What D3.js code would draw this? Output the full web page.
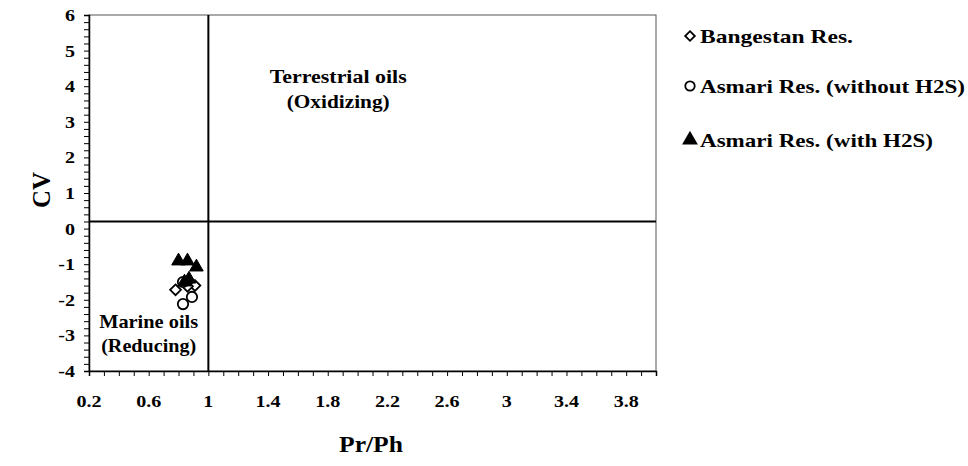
<!DOCTYPE html>
<html><head><meta charset="utf-8">
<script src="https://cdn.jsdelivr.net/npm/d3@7"></script>
<style>body{margin:0;background:#fff}svg{display:block}text{font-family:"Liberation Serif","Times New Roman",serif;font-weight:bold;fill:#000}</style>
</head><body><svg id="c" width="968" height="466"></svg>
<script>
// Data
const bangestan = [[0.78,-1.72],[0.91,-1.60],[0.86,-1.62]];
const asmariNoH2S = [[0.83,-1.50],[0.89,-1.92],[0.83,-2.12]];
const asmariH2S = [[0.80,-0.91],[0.86,-0.91],[0.92,-1.08],[0.87,-1.42],[0.84,-1.50]];
const xTickLabels = [0.2,0.6,1,1.4,1.8,2.2,2.6,3,3.4,3.8];
const yTickLabels = [-4,-3,-2,-1,0,1,2,3,4,5,6];
const xThreshold = 1, yThreshold = 0.2;
const seriesNames = ["Bangestan Res.","Asmari Res. (without H2S)","Asmari Res. (with H2S)"];

const svg = d3.select("#c");
const L=89, R=656, T=15, B=371;
const x = d3.scaleLinear().domain([0.2,4.0]).range([L,R]);
const y = d3.scaleLinear().domain([-4,6]).range([B,T]);

function label(parent, px, py, txt, size, len, anchor){
  const t = parent.append("text").attr("x",px).attr("y",py)
    .attr("text-anchor",anchor||"middle").style("font-size",size+"px").text(txt);
  if(len) t.attr("textLength",len).attr("lengthAdjust","spacingAndGlyphs");
  return t;
}

// frame
svg.append("rect").attr("x",L).attr("y",T).attr("width",R-L).attr("height",B-T)
  .attr("fill","none").attr("stroke","#555").attr("stroke-width",1);

// x axis
const xMinor = d3.range(2,41).map(d=>d/10);
const gx = svg.append("g").attr("transform",`translate(0,${B})`);
gx.call(d3.axisBottom(x).tickValues(xMinor).tickSize(5).tickFormat(""));
gx.select(".domain").attr("stroke","#000").attr("stroke-width",1.5);
gx.selectAll(".tick line").attr("stroke","#000").attr("stroke-width",1);
gx.append("g").selectAll("text").data(xTickLabels).join("text")
  .attr("transform",d=>`translate(${x(d)},36) scale(1.18,1)`).attr("text-anchor","middle")
  .style("font-size","17px").text(d=>d);

// y axis
const yMinor = d3.range(-20,31).map(d=>d/5);
const gy = svg.append("g").attr("transform",`translate(${L},0)`);
gy.call(d3.axisLeft(y).tickValues(yMinor).tickSize(5).tickFormat(""));
gy.select(".domain").attr("stroke","#000").attr("stroke-width",1.5);
gy.selectAll(".tick line").attr("stroke","#000").attr("stroke-width",1);
gy.append("g").selectAll("text").data(yTickLabels).join("text")
  .attr("transform",d=>`translate(-14,${y(d)+6}) scale(1.18,1)`).attr("text-anchor","end")
  .style("font-size","17px").text(d=>d);

// threshold lines
svg.append("line").attr("x1",x(xThreshold)).attr("x2",x(xThreshold)).attr("y1",T).attr("y2",B)
  .attr("stroke","#000").attr("stroke-width",2);
svg.append("line").attr("x1",L).attr("x2",R).attr("y1",y(yThreshold)).attr("y2",y(yThreshold))
  .attr("stroke","#000").attr("stroke-width",2);

// region labels
label(svg, x(1.87), y(4.10), "Terrestrial oils", 19, 137);
label(svg, x(1.87), y(3.38), "(Oxidizing)", 19, 103);
label(svg, x(0.60), y(-2.78), "Marine oils", 19, 99);
label(svg, x(0.60), y(-3.47), "(Reducing)", 19, 95);

// axis titles
label(svg, 371, 452, "Pr/Ph", 23, 64);
label(svg, 0, 0, "CV", 25, 36).attr("transform","translate(50,190) rotate(-90)");

// markers
const diamond = d3.symbol().type(d3.symbolDiamond2).size(75);
const circle = d3.symbol().type(d3.symbolCircle).size(85);
const tri = d3.symbol().type(d3.symbolTriangle).size(80);

svg.append("g").selectAll("path").data(bangestan).join("path")
  .attr("d",diamond).attr("transform",d=>`translate(${x(d[0])},${y(d[1])})`)
  .attr("fill","#fff").attr("stroke","#000").attr("stroke-width",1.8);
svg.append("g").selectAll("path").data(asmariNoH2S).join("path")
  .attr("d",circle).attr("transform",d=>`translate(${x(d[0])},${y(d[1])})`)
  .attr("fill","#fff").attr("stroke","#000").attr("stroke-width",1.8);
svg.append("g").selectAll("path").data(asmariH2S).join("path")
  .attr("d",tri).attr("transform",d=>`translate(${x(d[0])},${y(d[1])})`)
  .attr("fill","#000").attr("stroke","#000").attr("stroke-width",1);

// legend
const lg = svg.append("g");
const ly = [37,87,141];
const lens = [153,265,233];
seriesNames.forEach((n,i)=>{
  lg.append("path").attr("d", d3.symbol().type([d3.symbolDiamond2,d3.symbolCircle,d3.symbolTriangle][i]).size([60,70,70][i]))
    .attr("transform",`translate(690,${ly[i]-1})`)
    .attr("fill",i===2?"#000":"#fff").attr("stroke","#000").attr("stroke-width",1.8);
  label(lg, 700, ly[i]+6, n, 19, lens[i], "start");
});
</script></body></html>
